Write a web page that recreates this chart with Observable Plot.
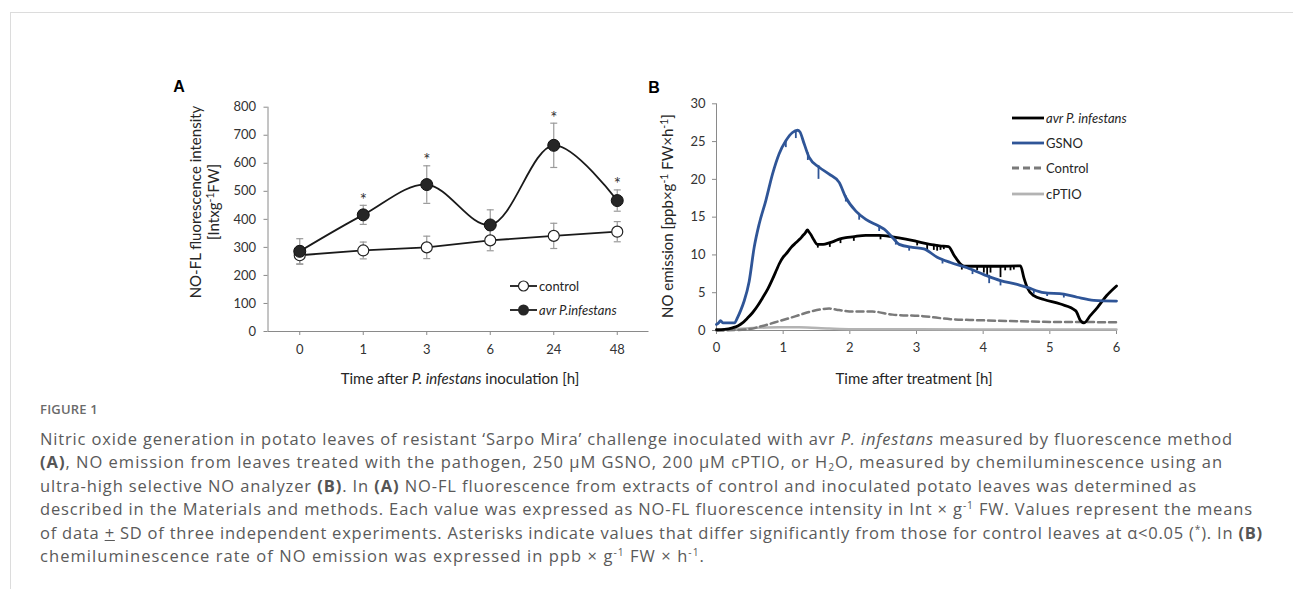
<!DOCTYPE html>
<html>
<head>
<meta charset="utf-8">
<script src="https://cdn.jsdelivr.net/npm/d3@7"></script>
<script src="https://cdn.jsdelivr.net/npm/@observablehq/plot@0.6"></script>
<style>
  html, body { margin: 0; padding: 0; background: #fff; }
  body { width: 1293px; height: 589px; position: relative; overflow: hidden; font-family: Lato, "Open Sans", sans-serif; }
  .abs { position: absolute; }
  #frame { position: absolute; left: 10px; top: 12px; right: 0; bottom: 0; border-left: 1px solid #dcdcdc; border-top: 1px solid #dcdcdc; }
  .plot svg text { fill: #333; }
  .chartTxt { font-family: Lato, sans-serif; font-size: 15px; color: #262626; white-space: nowrap; }
  .chartTxt sup { font-size: 0.7em; line-height: 0; vertical-align: 0.45em; }
  .rot { transform: translate(-50%, -50%) rotate(-90deg); text-align: center; }
  .ctr { transform: translate(-50%, -50%); }
  .panel { font-family: "Liberation Sans", Arial, sans-serif; font-weight: bold; font-size: 16px; color: #000; transform: translate(-50%, -50%); }
  .leg { position: absolute; display: flex; align-items: center; font-family: Lato, sans-serif; font-size: 13px; color: #262626; white-space: nowrap; transform: translateY(-50%); }
  .leg svg { display: block; margin-right: 2px; overflow: visible; }
  #figlabel { position: absolute; left: 40px; top: 399px; font-family: "Open Sans", sans-serif; font-size: 13px; font-weight: 600; color: #6b6b6b; line-height: 20px; letter-spacing: 0.2px; }
  #caption { position: absolute; left: 40px; top: 426.5px; font-family: "Open Sans", sans-serif; color: #5a5a5a; }
  #caption .line { font-size: 16.5px; line-height: 23.6px; height: 23.6px; white-space: nowrap; }
  #caption .line span.fit { display: inline-block; }
  #caption b { font-weight: 700; color: #555; }
  #caption sup { font-size: 0.62em; line-height: 0; vertical-align: 0.6em; }
  #caption sub { font-size: 0.62em; line-height: 0; vertical-align: -0.25em; }
</style>
</head>
<body>
<div id="frame"></div>
<div id="plotA" class="abs plot" style="left:160px; top:75px;"></div>
<div id="plotB" class="abs plot" style="left:620px; top:75px;"></div>

<div class="abs panel" style="left:179px; top:87px;">A</div>
<div class="abs panel" style="left:654px; top:88px;">B</div>

<div class="abs chartTxt rot" style="left:204px; top:202px; line-height:18px;">NO-FL fluorescence intensity<br>[Intxg<sup>-1</sup>FW]</div>
<div class="abs chartTxt ctr" style="left:460px; top:378px;">Time after <i>P. infestans</i> inoculation [h]</div>
<div class="abs chartTxt rot" style="left:667px; top:216px;">NO emission [ppb×g<sup>-1</sup> FW×h<sup>-1</sup>]</div>
<div class="abs chartTxt ctr" style="left:914px; top:378px;">Time after treatment [h]</div>

<div id="legA"></div>
<div id="legB"></div>

<div id="figlabel">FIGURE 1</div>
<div id="caption">
  <div class="line"><span class="fit">Nitric oxide generation in potato leaves of resistant ‘Sarpo Mira’ challenge inoculated with avr <i>P. infestans</i> measured by fluorescence method</span></div>
  <div class="line"><span class="fit"><b>(A)</b>, NO emission from leaves treated with the pathogen, 250 µM GSNO, 200 µM cPTIO, or H<sub>2</sub>O, measured by chemiluminescence using an</span></div>
  <div class="line"><span class="fit">ultra-high selective NO analyzer <b>(B)</b>. In <b>(A)</b> NO-FL fluorescence from extracts of control and inoculated potato leaves was determined as</span></div>
  <div class="line"><span class="fit">described in the Materials and methods. Each value was expressed as NO-FL fluorescence intensity in Int × g<sup>-1</sup> FW. Values represent the means</span></div>
  <div class="line"><span class="fit">of data <u>+</u> SD of three independent experiments. Asterisks indicate values that differ significantly from those for control leaves at α&lt;0.05 (<sup>*</sup>). In <b>(B)</b></span></div>
  <div class="line"><span class="fit">chemiluminescence rate of NO emission was expressed in ppb × g<sup>-1</sup> FW × h<sup>-1</sup>.</span></div>
</div>

<script>
// ---------------- Panel A data ----------------
const catsA = ["0", "1", "3", "6", "24", "48"];
const controlMean = [272, 289, 300, 325, 341, 356];
const controlSD   = [32, 30, 40, 37, 45, 36];
const avrMean     = [286, 416, 524, 380, 664, 467];
const avrSD       = [45, 34, 67, 54, 79, 38];
const avrSignificant = [false, true, true, false, true, true];
const yTicksA = [0, 100, 200, 300, 400, 500, 600, 700, 800];

// ---------------- Panel B data ----------------
const avrT = [0,0.12,0.24,0.32,0.39,0.46,0.54,0.62,0.69,0.77,0.84,0.9,0.94,1.0,1.04,1.12,1.19,1.25,1.29,1.33,1.365,1.39,1.415,1.46,1.51,1.6,1.69,1.76,1.84,1.94,2.04,2.24,2.44,2.64,2.84,3.0,3.2,3.35,3.48,3.56,3.66,3.72,3.9,4.2,4.56,4.61,4.66,4.76,4.91,5.16,5.39,5.46,5.51,5.61,5.71,5.85,6.0];
const avrV = [0.1,0.15,0.35,0.6,1.0,1.6,2.35,3.3,4.3,5.5,6.8,8.0,8.8,9.7,10.1,11.0,11.6,12.1,12.5,12.9,13.3,13.0,12.7,12.0,11.4,11.4,11.6,11.8,12.1,12.3,12.4,12.6,12.6,12.4,12.1,11.8,11.4,11.2,11.1,10.0,8.8,8.5,8.5,8.5,8.55,7.0,5.7,4.6,4.1,3.5,2.6,1.3,1.0,2.0,3.0,4.6,5.9];
// downward blips on the avr trace: time, top, bottom
const avrSpikeT   = [1.52,1.70,1.86,2.06,2.46,3.01,3.16,3.26,3.31,3.36,3.41,3.68,3.91,4.01,4.06,4.11,4.26,4.33,4.41,4.46];
const avrSpikeTop = [11.5,11.6,12.1,12.4,12.6,11.8,11.5,11.4,11.3,11.2,11.2,8.6,8.5,8.5,8.5,8.5,8.5,8.5,8.5,8.5];
const avrSpikeBot = [10.9,11.0,11.5,11.8,12.0,11.2,10.6,10.6,10.5,10.6,10.7,8.0,7.9,7.6,7.2,7.6,7.0,7.9,7.9,8.0];

const gsnoT = [0,0.03,0.06,0.1,0.27,0.315,0.36,0.415,0.49,0.565,0.64,0.74,0.84,0.94,1.04,1.14,1.215,1.25,1.315,1.39,1.54,1.69,1.84,1.94,2.09,2.24,2.44,2.515,2.64,2.74,2.94,3.11,3.31,3.51,3.76,4.01,4.26,4.51,4.66,4.91,5.21,5.41,5.66,6.0];
const gsnoV = [0.8,1.0,1.3,1.0,1.0,1.7,2.6,3.9,6.5,11.0,14.1,17.2,20.7,23.4,25.1,26.2,26.5,26.3,24.7,22.9,21.6,20.7,19.6,17.6,15.8,14.7,13.8,13.4,12.3,11.4,11.0,10.8,9.7,9.0,8.3,7.4,6.6,6.1,5.7,5.0,4.8,4.4,4.0,3.9];
const gsnoSpikeT   = [1.04,1.19,1.37,1.53,1.94,2.14,2.44,2.69,2.89,3.39,3.84,4.09,4.26,4.76,4.96,5.21];
const gsnoSpikeTop = [25.1,26.3,23.5,21.8,17.8,15.5,13.8,12.0,11.1,9.4,8.1,7.3,6.6,5.4,5.0,4.8];
const gsnoSpikeBot = [24.2,25.4,22.5,20.0,17.0,14.6,13.1,11.3,10.5,8.8,7.4,6.2,5.9,4.8,4.5,4.3];

const controlT = [0,0.44,0.69,0.94,1.19,1.44,1.69,1.84,2.04,2.34,2.64,3.09,3.51,3.91,4.41,4.91,5.41,6.0];
const controlV = [0,0.13,0.6,1.24,1.9,2.57,2.9,2.7,2.5,2.5,2.1,1.9,1.5,1.37,1.25,1.15,1.12,1.1];

const cptioT = [0,0.44,0.94,1.24,1.69,2.04,3,4,5,6];
const cptioV = [0,0.27,0.44,0.44,0.27,0.18,0.15,0.12,0.12,0.12];

const xTicksB = [0, 1, 2, 3, 4, 5, 6];
const yTicksB = [0, 5, 10, 15, 20, 25, 30];

// ---------------- styles ----------------
const axisGray = "#8a8a8a";
const errGray = "#9a9a9a";
const blue = "#2f5597";

// ---------------- Panel A ----------------
const rowsA = catsA.map((c, i) => ({
  i, c,
  control: controlMean[i], controlSD: controlSD[i],
  avr: avrMean[i], avrSD: avrSD[i], sig: avrSignificant[i]
}));

const capSymbol = { draw(ctx) { ctx.moveTo(-3.5, 0); ctx.lineTo(3.5, 0); } };

const plotA = Plot.plot({
  width: 490, height: 320,
  marginLeft: 107.5, marginRight: 1.5, marginTop: 31.7, marginBottom: 64,
  style: { fontFamily: "Lato, sans-serif", fontSize: "13px", color: axisGray, background: "transparent", overflow: "visible" },
  x: { domain: [-0.5, 5.5], ticks: d3.range(catsA.length), tickFormat: i => catsA[i], tickSize: 4, tickPadding: 9, label: null },
  y: { domain: [0, 800], ticks: yTicksA, tickSize: 4, tickPadding: 8, label: null },
  marks: [
    Plot.ruleY([0], { stroke: axisGray }),
    Plot.ruleX([-0.5], { stroke: axisGray }),
    // error bars
    Plot.ruleX(rowsA, { x: "i", y1: d => d.control - d.controlSD, y2: d => d.control + d.controlSD, stroke: errGray, strokeWidth: 1.2 }),
    Plot.dot(rowsA, { x: "i", y: d => d.control - d.controlSD, symbol: capSymbol, stroke: errGray, strokeWidth: 1.2 }),
    Plot.dot(rowsA, { x: "i", y: d => d.control + d.controlSD, symbol: capSymbol, stroke: errGray, strokeWidth: 1.2 }),
    Plot.ruleX(rowsA, { x: "i", y1: d => d.avr - d.avrSD, y2: d => d.avr + d.avrSD, stroke: errGray, strokeWidth: 1.2 }),
    Plot.dot(rowsA, { x: "i", y: d => d.avr - d.avrSD, symbol: capSymbol, stroke: errGray, strokeWidth: 1.2 }),
    Plot.dot(rowsA, { x: "i", y: d => d.avr + d.avrSD, symbol: capSymbol, stroke: errGray, strokeWidth: 1.2 }),
    // lines
    Plot.line(rowsA, { x: "i", y: "control", stroke: "#1a1a1a", strokeWidth: 1.8 }),
    Plot.line(rowsA, { x: "i", y: "avr", curve: "catmull-rom", stroke: "#1a1a1a", strokeWidth: 1.8 }),
    // markers
    Plot.dot(rowsA, { x: "i", y: "control", r: 5.5, fill: "white", stroke: "#222", strokeWidth: 1.2 }),
    Plot.dot(rowsA, { x: "i", y: "avr", r: 6, fill: "#262626", stroke: "#111", strokeWidth: 1 }),
    // significance asterisks
    Plot.text(rowsA.filter(d => d.sig), { x: "i", y: d => d.avr + d.avrSD, text: () => "*", dy: -5, fontSize: 17, fill: "#222" })
  ]
});
document.getElementById("plotA").appendChild(plotA);

// ---------------- Panel B ----------------
const toRows = (T, V) => T.map((t, k) => ({ t, v: V[k] }));
const avrRows = toRows(avrT, avrV);
const gsnoRows = toRows(gsnoT, gsnoV);
const controlRows = toRows(controlT, controlV);
const cptioRows = toRows(cptioT, cptioV);
const avrSpikes = avrSpikeT.map((t, k) => ({ t, top: avrSpikeTop[k], bot: avrSpikeBot[k] }));
const gsnoSpikes = gsnoSpikeT.map((t, k) => ({ t, top: gsnoSpikeTop[k], bot: gsnoSpikeBot[k] }));

const plotB = Plot.plot({
  width: 520, height: 320,
  marginLeft: 96, marginRight: 24, marginTop: 28.3, marginBottom: 65,
  style: { fontFamily: "Lato, sans-serif", fontSize: "13px", color: axisGray, background: "transparent", overflow: "visible" },
  x: { domain: [0, 6], ticks: xTicksB, tickFormat: d3.format("d"), tickSize: 4, tickPadding: 8, label: null },
  y: { domain: [0, 30], ticks: yTicksB, tickFormat: d3.format("d"), tickSize: 4, tickPadding: 7, label: null },
  marks: [
    Plot.ruleY([0], { stroke: axisGray }),
    Plot.ruleX([0], { stroke: axisGray }),
    Plot.line(cptioRows, { x: "t", y: "v", stroke: "#b3b3b3", strokeWidth: 2.5, curve: "monotone-x" }),
    Plot.line(controlRows, { x: "t", y: "v", stroke: "#7a7a7a", strokeWidth: 2.5, strokeDasharray: "7,4", curve: "monotone-x" }),
    Plot.line(avrRows, { x: "t", y: "v", stroke: "#000", strokeWidth: 2.8, curve: "monotone-x" }),
    Plot.ruleX(avrSpikes, { x: "t", y1: "top", y2: "bot", stroke: "#000", strokeWidth: 1.8 }),
    Plot.line(gsnoRows, { x: "t", y: "v", stroke: blue, strokeWidth: 2.8, curve: "monotone-x" }),
    Plot.ruleX(gsnoSpikes, { x: "t", y1: "top", y2: "bot", stroke: blue, strokeWidth: 1.8 })
  ]
});
document.getElementById("plotB").appendChild(plotB);

// ---------------- Legends (HTML) ----------------
function legendRow(container, left, top, svgInner, w, label, italic) {
  const div = document.createElement("div");
  div.className = "leg";
  div.style.left = left + "px";
  div.style.top = top + "px";
  div.innerHTML = `<svg width="${w}" height="12" viewBox="0 0 ${w} 12">${svgInner}</svg>` +
    `<span style="${italic ? "font-style:italic;" : ""}">${label}</span>`;
  container.appendChild(div);
}
const legA = document.getElementById("legA");
legendRow(legA, 510, 286, `<line x1="0" y1="6" x2="27" y2="6" stroke="#1a1a1a" stroke-width="1.8"/><circle cx="13.5" cy="6" r="5" fill="white" stroke="#222" stroke-width="1.2"/>`, 27, "control", false);
legendRow(legA, 510, 310, `<line x1="0" y1="6" x2="27" y2="6" stroke="#1a1a1a" stroke-width="1.8"/><circle cx="13.5" cy="6" r="5.5" fill="#262626"/>`, 27, "avr P.infestans", true);

const legB = document.getElementById("legB");
const legBItems = [
  { label: "avr P. infestans", stroke: "#000", dash: "", italic: true },
  { label: "GSNO", stroke: blue, dash: "", italic: false },
  { label: "Control", stroke: "#7a7a7a", dash: "7,4", italic: false },
  { label: "cPTIO", stroke: "#b3b3b3", dash: "", italic: false }
];
legBItems.forEach((d, k) => {
  legendRow(legB, 1012, 118 + k * 25.2,
    `<line x1="0" y1="6" x2="32" y2="6" stroke="${d.stroke}" stroke-width="2.8" ${d.dash ? `stroke-dasharray="${d.dash}"` : ""}/>`,
    32, d.label, d.italic);
});

// ---------------- Caption line fitting (match the reference line lengths) ----------------
const captionWidths = [1193, 1183, 1157, 1213, 1223, 665];
document.querySelectorAll("#caption .fit").forEach((el, k) => {
  const w = el.getBoundingClientRect().width;
  const n = el.textContent.length;
  const ls = (captionWidths[k] - w) / n;
  el.style.letterSpacing = ls.toFixed(3) + "px";
});
</script>
</body>
</html>
